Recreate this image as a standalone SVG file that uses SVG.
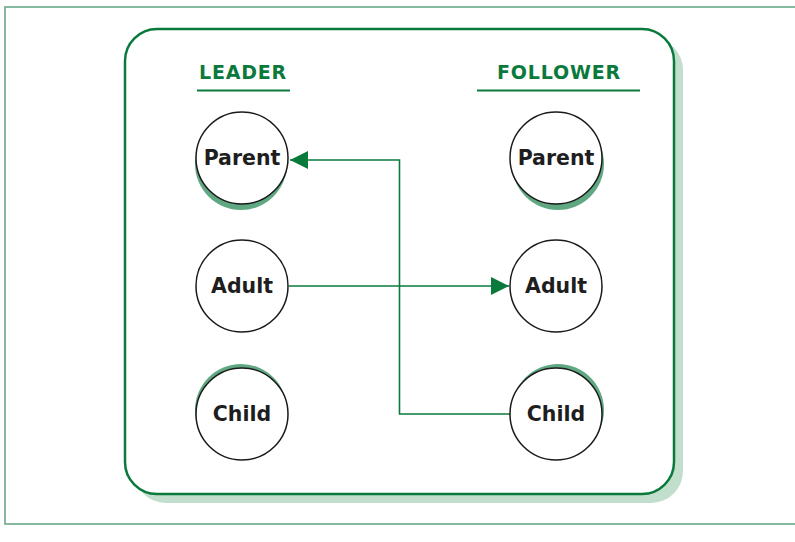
<svg xmlns="http://www.w3.org/2000/svg" width="795" height="542" viewBox="0 0 795 542">
<defs>
<style>
.node{fill:#fff;stroke:#1a1a1a;stroke-width:1.5}
.sh{fill:#5fa882}
.lbl{font-family:"DejaVu Sans","Liberation Sans",sans-serif;font-weight:bold;font-size:20.5px;fill:#1e1e1e;text-anchor:middle}
.hdr{font-family:"DejaVu Sans","Liberation Sans",sans-serif;font-weight:bold;font-size:19px;fill:#0a7a3c;text-anchor:middle;letter-spacing:0.8px}
.conn{fill:none;stroke:#0a7a3c;stroke-width:1.6}
</style>
<marker id="ah" viewBox="0 0 18 18" refX="18" refY="9" markerWidth="18" markerHeight="18" markerUnits="userSpaceOnUse" orient="auto">
<path d="M0,0 L18,9 L0,18 Z" fill="#0a7a3c"/>
</marker>
</defs>
<rect x="0" y="0" width="795" height="542" fill="#fff"/>
<rect x="5" y="7" width="795" height="517" fill="none" stroke="#6aa88a" stroke-width="1.6"/>
<g id="frame">
<rect x="134" y="38" width="549" height="465" rx="32" fill="#c2decd"/>
<rect x="125" y="29" width="549" height="465" rx="32" fill="#fff" stroke="#0a7a3c" stroke-width="2.5"/>
</g>
<g id="header-leader">
<text class="hdr" x="243" y="79">LEADER</text>
<line x1="197" y1="90.5" x2="290" y2="90.5" stroke="#0a7a3c" stroke-width="2"/>
</g>
<g id="header-follower">
<text class="hdr" x="559" y="79">FOLLOWER</text>
<line x1="477" y1="90.5" x2="640" y2="90.5" stroke="#0a7a3c" stroke-width="2"/>
</g>
<g id="connectors">
<line class="conn" x1="289" y1="286" x2="509" y2="286" marker-end="url(#ah)"/>
<polyline class="conn" points="510,414 399.5,414 399.5,160 290,160" marker-end="url(#ah)"/>
</g>
<g id="leader-parent">
<circle class="sh" cx="241" cy="164" r="46"/>
<circle class="node" cx="242" cy="158" r="46"/>
<text class="lbl" x="242" y="165">Parent</text>
</g>
<g id="leader-adult">
<circle class="node" cx="242" cy="286" r="46"/>
<text class="lbl" x="242" y="293">Adult</text>
</g>
<g id="leader-child">
<circle class="sh" cx="241" cy="410" r="46"/>
<circle class="node" cx="242" cy="414" r="46"/>
<text class="lbl" x="242" y="421">Child</text>
</g>
<g id="follower-parent">
<circle class="sh" cx="558" cy="164" r="46"/>
<circle class="node" cx="556" cy="158" r="46"/>
<text class="lbl" x="556" y="165">Parent</text>
</g>
<g id="follower-adult">
<circle class="node" cx="556" cy="286" r="46"/>
<text class="lbl" x="556" y="293">Adult</text>
</g>
<g id="follower-child">
<circle class="sh" cx="558" cy="410" r="46"/>
<circle class="node" cx="556" cy="414" r="46"/>
<text class="lbl" x="556" y="421">Child</text>
</g>
</svg>
